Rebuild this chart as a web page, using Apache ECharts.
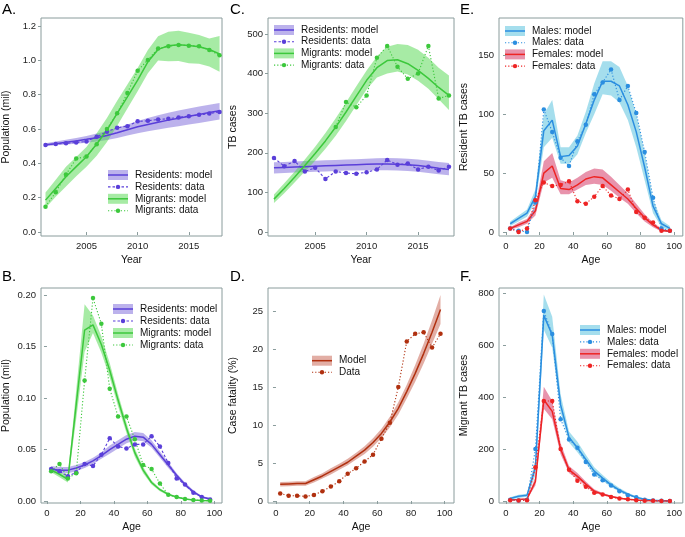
<!DOCTYPE html>
<html>
<head>
<meta charset="utf-8">
<script src="https://cdn.jsdelivr.net/npm/echarts@6/dist/echarts.min.js"></script>
<style>
html, body { margin: 0; padding: 0; background: #fff; }
#chart { width: 685px; height: 537px; }
</style>
</head>
<body>
<div id="chart"></div>
<script>
// x values
const years = [2001, 2002, 2003, 2004, 2005, 2006, 2007, 2008, 2009, 2010, 2011, 2012, 2013, 2014, 2015, 2016, 2017, 2018]
const ages = [2.5, 7.5, 12.5, 17.5, 22.5, 27.5, 32.5, 37.5, 42.5, 47.5, 52.5, 57.5, 62.5, 67.5, 72.5, 77.5, 82.5, 87.5, 92.5, 97.5]

// tick labels
const yearTicks = [2005, 2010, 2015]
const ageTicks = [0, 20, 40, 60, 80, 100]
const popYearTicks = [0, 0.2, 0.4, 0.6, 0.8, 1.0, 1.2]
const popAgeTicks = [0, 0.05, 0.1, 0.15, 0.2]
const casesTicks = [0, 100, 200, 300, 400, 500]
const cfrTicks = [0, 5, 10, 15, 20, 25]
const resCasesTicks = [0, 50, 100, 150]
const migCasesTicks = [0, 200, 400, 600, 800]

// A. population by year
const popResModel = [0.508, 0.515, 0.523, 0.531, 0.540, 0.550, 0.562, 0.578, 0.596, 0.613, 0.627, 0.640, 0.652, 0.663, 0.674, 0.685, 0.696, 0.706]
const popResLo = [0.500, 0.505, 0.510, 0.515, 0.520, 0.527, 0.536, 0.548, 0.562, 0.575, 0.587, 0.598, 0.608, 0.617, 0.626, 0.635, 0.645, 0.655]
const popResHi = [0.518, 0.527, 0.537, 0.548, 0.560, 0.574, 0.589, 0.607, 0.627, 0.647, 0.664, 0.680, 0.695, 0.708, 0.720, 0.731, 0.742, 0.752]
const popResData = [0.507, 0.513, 0.517, 0.522, 0.528, 0.555, 0.585, 0.607, 0.617, 0.645, 0.648, 0.656, 0.660, 0.668, 0.675, 0.683, 0.690, 0.700]
const popMigModel = [0.186, 0.254, 0.322, 0.381, 0.439, 0.513, 0.594, 0.691, 0.788, 0.885, 0.992, 1.064, 1.085, 1.091, 1.087, 1.080, 1.064, 1.037]
const popMigLo = [0.140, 0.205, 0.265, 0.325, 0.380, 0.445, 0.525, 0.620, 0.720, 0.820, 0.925, 1.000, 0.995, 0.996, 0.983, 0.980, 0.965, 0.934]
const popMigHi = [0.230, 0.305, 0.380, 0.437, 0.495, 0.575, 0.665, 0.765, 0.860, 0.955, 1.060, 1.140, 1.167, 1.173, 1.161, 1.148, 1.128, 1.142]
const popMigData = [0.148, 0.232, 0.335, 0.428, 0.440, 0.512, 0.600, 0.692, 0.810, 0.940, 1.003, 1.070, 1.082, 1.090, 1.086, 1.083, 1.060, 1.030]

// B. population by age
const ageResModel = [0.031, 0.030, 0.030, 0.032, 0.035, 0.039, 0.044, 0.050, 0.055, 0.060, 0.063, 0.062, 0.055, 0.045, 0.035, 0.025, 0.016, 0.009, 0.004, 0.002]
const ageResLo = [0.028, 0.027, 0.027, 0.029, 0.032, 0.036, 0.041, 0.046, 0.051, 0.056, 0.059, 0.058, 0.052, 0.042, 0.032, 0.023, 0.014, 0.0075, 0.003, 0.001]
const ageResHi = [0.034, 0.033, 0.033, 0.035, 0.038, 0.042, 0.047, 0.054, 0.059, 0.064, 0.067, 0.066, 0.059, 0.048, 0.038, 0.027, 0.018, 0.0105, 0.005, 0.003]
const ageResData = [0.031, 0.029, 0.024, 0.028, 0.036, 0.034, 0.045, 0.061, 0.053, 0.051, 0.055, 0.055, 0.063, 0.053, 0.037, 0.022, 0.016, 0.008, 0.004, 0.0015]
const ageMigModel = [0.030, 0.026, 0.021, 0.094, 0.166, 0.171, 0.152, 0.127, 0.098, 0.071, 0.047, 0.030, 0.018, 0.011, 0.0065, 0.004, 0.002, 0.001, 0.0005, 0.0002]
const ageMigLo = [0.028, 0.023, 0.018, 0.080, 0.145, 0.163, 0.144, 0.120, 0.092, 0.066, 0.043, 0.027, 0.016, 0.0095, 0.0055, 0.003, 0.0015, 0.0007, 0.0003, 0.0001]
const ageMigHi = [0.033, 0.029, 0.024, 0.108, 0.191, 0.180, 0.160, 0.134, 0.104, 0.076, 0.051, 0.033, 0.020, 0.0125, 0.0075, 0.0045, 0.0025, 0.0013, 0.0007, 0.0003]
const ageMigData = [0.029, 0.036, 0.022, 0.027, 0.117, 0.197, 0.172, 0.109, 0.082, 0.082, 0.060, 0.035, 0.031, 0.017, 0.006, 0.004, 0.002, 0.001, 0.0005, 0.0002]

// C. TB cases by year
const casesResModel = [162, 163, 164, 165, 166, 167, 168, 169, 170, 171, 172, 172, 171, 170, 168, 165, 161, 158]
const casesResLo = [148, 149, 150, 151, 152, 153, 154, 155, 155, 156, 156, 156, 155, 154, 152, 149, 146, 143]
const casesResHi = [176, 177, 178, 179, 180, 181, 182, 183, 184, 185, 186, 187, 186, 185, 183, 180, 177, 174]
const casesResData = [187, 166, 179, 153, 162, 134, 153, 149, 147, 151, 158, 182, 170, 173, 158, 165, 155, 165]
const casesMigModel = [83, 110, 138, 168, 198, 230, 265, 303, 343, 383, 415, 433, 435, 425, 408, 388, 365, 345]
const casesMigLo = [73, 98, 125, 153, 180, 210, 243, 280, 320, 360, 390, 400, 405, 398, 382, 362, 335, 308]
const casesMigHi = [95, 123, 152, 183, 215, 250, 287, 327, 368, 408, 443, 468, 475, 472, 460, 440, 415, 395]
const casesMigData = [null, null, null, null, null, null, 265, 328, 315, 345, 440, 470, 417, 387, 400, 470, 337, 345]

// D. case fatality by age
const cfrModel = [2.2, 2.25, 2.3, 2.3, 2.8, 3.3, 3.9, 4.5, 5.1, 5.9, 6.7, 7.7, 8.9, 10.4, 12.2, 14.4, 16.8, 19.4, 22.2, 25.2]
const cfrLo = [1.9, 1.95, 2.0, 2.0, 2.45, 2.95, 3.5, 4.1, 4.7, 5.45, 6.2, 7.15, 8.3, 9.7, 11.4, 13.5, 15.7, 18.1, 20.7, 23.3]
const cfrHi = [2.5, 2.55, 2.6, 2.6, 3.15, 3.65, 4.3, 4.9, 5.55, 6.35, 7.2, 8.25, 9.5, 11.1, 13.0, 15.3, 17.9, 20.7, 23.8, 27.1]
const cfrData = [1.0, 0.7, 0.7, 0.6, 0.8, 1.3, 1.9, 2.6, 3.6, 4.3, 5.2, 6.1, 8.2, 10.3, 15.0, 21.0, 22.0, 22.2, 20.2, 22.0]

// E. resident TB cases by age and sex
const resMaleModel = [7, 11.5, 16, 30, 86, 95, 64, 65, 73, 92, 112, 128, 128, 124, 108, 85, 55, 22, 7, 3]
const resMaleLo = [5, 9, 13, 25, 72, 80, 58, 58, 66, 84, 100, 117, 116, 110, 95, 72, 44, 16, 4, 1]
const resMaleHi = [9, 14, 19, 36, 100, 112, 72, 72, 82, 102, 126, 145, 145, 140, 124, 100, 67, 28, 10, 5]
const resMaleData = [3, 1, 0, 25, 104, 85, 63, 56, 77, 91, 117, 127, 138, 112, 124, 101, 68, 29, 3, 1]
const resFemModel = [3, 6, 9, 18, 50, 56, 37, 36, 40, 45, 47, 46, 40, 34, 28, 20, 12, 6, 1.5, 0.5]
const resFemLo = [2, 4, 7, 14, 42, 46, 32, 32, 36, 40, 41, 40, 35, 29, 24, 16, 9, 4, 0.5, 0]
const resFemHi = [4, 8, 11, 22, 60, 67, 44, 42, 46, 51, 54, 53, 47, 40, 33, 24, 15, 8, 3, 1]
const resFemData = [3, 0, 3, 27, 42, 39, 40, 43, 26, 24, 30, 39, 31, 28, 36, 17, 12, 8, 1, 1]

// F. migrant TB cases by age and sex
const migMaleModel = [10, 18, 22, 130, 715, 640, 370, 245, 205, 160, 115, 88, 62, 42, 26, 14, 7, 3, 1, 0.5]
const migMaleLo = [6, 12, 16, 100, 660, 590, 340, 225, 188, 145, 103, 78, 54, 36, 21, 11, 5, 2, 0, 0]
const migMaleHi = [14, 24, 28, 160, 795, 710, 410, 268, 228, 178, 130, 100, 72, 50, 32, 18, 10, 5, 2, 1]
const migMaleData = [5, 2, 5, 200, 732, 643, 315, 237, 205, 150, 102, 80, 60, 38, 22, 14, 5, 2, 1, 0]
const migFemModel = [5, 6, 8, 75, 390, 345, 200, 120, 95, 65, 38, 26, 17, 11, 7, 4, 2, 1, 0.5, 0.2]
const migFemLo = [3, 4, 6, 60, 355, 315, 180, 108, 85, 57, 33, 22, 14, 9, 5, 3, 1, 0.5, 0, 0]
const migFemHi = [7, 8, 10, 92, 440, 385, 222, 135, 108, 75, 45, 31, 21, 14, 9, 5, 3, 2, 1, 0.5]
const migFemData = [3, 2, 3, 130, 385, 385, 200, 120, 78, 55, 32, 25, 15, 10, 7, 3, 1, 1, 0, 0]

// 颜色
const C = {
  res: '#5a3fd9', resBand: 'rgba(122,102,218,0.5)',
  mig: '#3cc83c', migBand: 'rgba(80,215,75,0.5)',
  male: '#2b8ee0', maleBand: 'rgba(75,190,220,0.5)',
  fem: '#ee2424', femBand: 'rgba(210,40,90,0.5)',
  cfr: '#b0300f', cfrBand: 'rgba(190,75,55,0.45)'
}
const FONT = '"Liberation Sans", Arial, sans-serif'
const BORDER = '#8a9c9c'
const RES_DASH = [2.5, 2]
const DOT_DASH = [1.2, 2]

const pairs = (xs, ys) => xs.map((x, i) => [x, ys[i]]).filter(p => p[1] != null)

// 置信带: 自定义系列, 用坐标轴换算成多边形
const band = (ax, xs, lo, hi, color) => ({
  type: 'custom', xAxisIndex: ax, yAxisIndex: ax, silent: true, z: 1,
  data: xs.map((x, i) => [x, lo[i], hi[i]]),
  encode: { x: 0, y: [1, 2] },
  renderItem: (params, api) => {
    if (params.dataIndex !== 0) return null
    const top = xs.map((x, i) => api.coord([x, hi[i]]))
    const bottom = xs.map((x, i) => api.coord([x, lo[i]])).reverse()
    return {
      type: 'polygon',
      shape: { points: top.concat(bottom) },
      style: { fill: color, stroke: null }
    }
  }
})

const modelLine = (ax, name, xs, ys, color) => ({
  type: 'line', name, xAxisIndex: ax, yAxisIndex: ax, data: pairs(xs, ys),
  symbol: 'none', lineStyle: { color, width: 1.5 }, z: 3
})

const dataLine = (ax, name, xs, ys, color, dash) => ({
  type: 'line', name, xAxisIndex: ax, yAxisIndex: ax, data: pairs(xs, ys),
  symbol: 'circle', symbolSize: 4.5, itemStyle: { color },
  lineStyle: { color, width: 1.1, type: dash }, z: 4
})

// 图例 (graphic)
const legend = (x, y0, step, items) => {
  const els = []
  items.forEach((it, i) => {
    const cy = y0 + i * step
    if (it.band) {
      els.push({ type: 'rect', silent: true, shape: { x, y: cy - 5, width: 20, height: 10 }, style: { fill: it.band } })
      els.push({ type: 'line', silent: true, shape: { x1: x, y1: cy, x2: x + 20, y2: cy }, style: { stroke: it.color, lineWidth: 1.5 } })
    } else {
      els.push({ type: 'line', silent: true, shape: { x1: x, y1: cy, x2: x + 20, y2: cy }, style: { stroke: it.color, lineWidth: 1.1, lineDash: it.dash } })
      els.push({ type: 'circle', silent: true, shape: { cx: x + 10, cy, r: 2.2 }, style: { fill: it.color } })
    }
    els.push({
      type: 'text', silent: true, x: x + 27, y: cy,
      style: { text: it.label, fontSize: 10, fontFamily: FONT, fill: '#111', verticalAlign: 'middle' }
    })
  })
  return els
}

const resMigItems = [
  { label: 'Residents: model', color: C.res, band: C.resBand },
  { label: 'Residents: data', color: C.res, dash: RES_DASH },
  { label: 'Migrants: model', color: C.mig, band: C.migBand },
  { label: 'Migrants: data', color: C.mig, dash: DOT_DASH }
]
const sexItems = [
  { label: 'Males: model', color: C.male, band: C.maleBand },
  { label: 'Males: data', color: C.male, dash: DOT_DASH },
  { label: 'Females: model', color: C.fem, band: C.femBand },
  { label: 'Females: data', color: C.fem, dash: DOT_DASH }
]
const cfrItems = [
  { label: 'Model', color: C.cfr, band: C.cfrBand },
  { label: 'Data', color: C.cfr, dash: DOT_DASH }
]

// 面板布局: A, B, C, D, E, F
const grids = [
  { left: 40, top: 18, width: 182, height: 218 },
  { left: 40, top: 288, width: 182, height: 215 },
  { left: 268, top: 18, width: 186, height: 218 },
  { left: 268, top: 288, width: 186, height: 215 },
  { left: 499, top: 18, width: 184, height: 218 },
  { left: 499, top: 288, width: 184, height: 215 }
].map(g => ({ ...g, show: true, borderColor: BORDER, borderWidth: 1, backgroundColor: 'transparent' }))

const axisCommon = {
  type: 'value',
  splitLine: { show: false },
  axisLine: { show: false },
  nameLocation: 'middle',
  nameTextStyle: { fontSize: 10.5, fontFamily: FONT, color: '#111' }
}

const makeX = (idx, min, max, ticks, name) => ({
  ...axisCommon, gridIndex: idx, min, max, name, nameGap: 19,
  axisTick: { show: true, length: 3, customValues: ticks, lineStyle: { color: BORDER } },
  axisLabel: {
    customValues: ticks, margin: 5, fontSize: 9.5, fontFamily: FONT, color: '#222',
    formatter: v => String(v)
  }
})

const makeY = (idx, min, max, ticks, name, digits) => ({
  ...axisCommon, gridIndex: idx, min, max, name, nameGap: 29,
  axisTick: { show: true, length: 3, customValues: ticks, lineStyle: { color: BORDER } },
  axisLabel: {
    customValues: ticks, margin: 5, fontSize: 9.5, fontFamily: FONT, color: '#222',
    formatter: v => Number(v).toFixed(digits)
  }
})

const xAxes = [
  makeX(0, 2000.56, 2018.24, yearTicks, 'Year'),
  makeX(1, -3.56, 104.6, ageTicks, 'Age'),
  makeX(2, 2000.42, 2018.49, yearTicks, 'Year'),
  makeX(3, -4.73, 105.5, ageTicks, 'Age'),
  makeX(4, -4.16, 105.2, ageTicks, 'Age'),
  makeX(5, -4.16, 105.2, ageTicks, 'Age')
]
const yAxes = [
  makeY(0, -0.023, 1.247, popYearTicks, 'Population (mil)', 1),
  makeY(1, -0.0019, 0.2068, popAgeTicks, 'Population (mil)', 2),
  makeY(2, -10.1, 540.4, casesTicks, 'TB cases', 0),
  makeY(3, -0.26, 28.03, cfrTicks, 'Case fatality (%)', 0),
  makeY(4, -3.4, 181.7, resCasesTicks, 'Resident TB cases', 0),
  makeY(5, -7.7, 820.4, migCasesTicks, 'Migrant TB cases', 0)
]

const series = [
  // A
  band(0, years, popResLo, popResHi, C.resBand),
  band(0, years, popMigLo, popMigHi, C.migBand),
  modelLine(0, 'Residents: model', years, popResModel, C.res),
  modelLine(0, 'Migrants: model', years, popMigModel, C.mig),
  dataLine(0, 'Residents: data', years, popResData, C.res, RES_DASH),
  dataLine(0, 'Migrants: data', years, popMigData, C.mig, DOT_DASH),
  // B
  band(1, ages, ageResLo, ageResHi, C.resBand),
  band(1, ages, ageMigLo, ageMigHi, C.migBand),
  modelLine(1, 'Residents: model', ages, ageResModel, C.res),
  modelLine(1, 'Migrants: model', ages, ageMigModel, C.mig),
  dataLine(1, 'Residents: data', ages, ageResData, C.res, RES_DASH),
  dataLine(1, 'Migrants: data', ages, ageMigData, C.mig, DOT_DASH),
  // C
  band(2, years, casesResLo, casesResHi, C.resBand),
  band(2, years, casesMigLo, casesMigHi, C.migBand),
  modelLine(2, 'Residents: model', years, casesResModel, C.res),
  modelLine(2, 'Migrants: model', years, casesMigModel, C.mig),
  dataLine(2, 'Residents: data', years, casesResData, C.res, RES_DASH),
  dataLine(2, 'Migrants: data', years, casesMigData, C.mig, DOT_DASH),
  // D
  band(3, ages, cfrLo, cfrHi, C.cfrBand),
  modelLine(3, 'Model', ages, cfrModel, C.cfr),
  dataLine(3, 'Data', ages, cfrData, C.cfr, DOT_DASH),
  // E
  band(4, ages, resMaleLo, resMaleHi, C.maleBand),
  band(4, ages, resFemLo, resFemHi, C.femBand),
  modelLine(4, 'Males: model', ages, resMaleModel, C.male),
  modelLine(4, 'Females: model', ages, resFemModel, C.fem),
  dataLine(4, 'Males: data', ages, resMaleData, C.male, DOT_DASH),
  dataLine(4, 'Females: data', ages, resFemData, C.fem, DOT_DASH),
  // F
  band(5, ages, migMaleLo, migMaleHi, C.maleBand),
  band(5, ages, migFemLo, migFemHi, C.femBand),
  modelLine(5, 'Males: model', ages, migMaleModel, C.male),
  modelLine(5, 'Females: model', ages, migFemModel, C.fem),
  dataLine(5, 'Males: data', ages, migMaleData, C.male, DOT_DASH),
  dataLine(5, 'Females: data', ages, migFemData, C.fem, DOT_DASH)
].map(s => ({ ...s, emphasis: { disabled: true } }))

const panelTitle = (text, left, top) => ({
  text, left, top, padding: 0,
  textStyle: { fontSize: 15, fontWeight: 'normal', fontFamily: FONT, color: '#000' }
})

const option = {
  animation: false,
  backgroundColor: '#fff',
  title: [
    panelTitle('A.', 2, 2),
    panelTitle('B.', 2, 269),
    panelTitle('C.', 230, 2),
    panelTitle('D.', 230, 269),
    panelTitle('E.', 460, 2),
    panelTitle('F.', 460, 269)
  ],
  grid: grids,
  xAxis: xAxes,
  yAxis: yAxes,
  series,
  graphic: [
    ...legend(108, 175, 11.9, resMigItems),
    ...legend(113, 309, 12, resMigItems),
    ...legend(274, 30, 11.7, resMigItems),
    ...legend(312, 360.7, 11.6, cfrItems),
    ...legend(505, 31, 11.7, sexItems),
    ...legend(580, 330, 11.9, sexItems)
  ]
}

const chart = echarts.init(document.getElementById('chart'), null, { renderer: 'canvas' })
chart.setOption(option)
</script>
</body>
</html>
